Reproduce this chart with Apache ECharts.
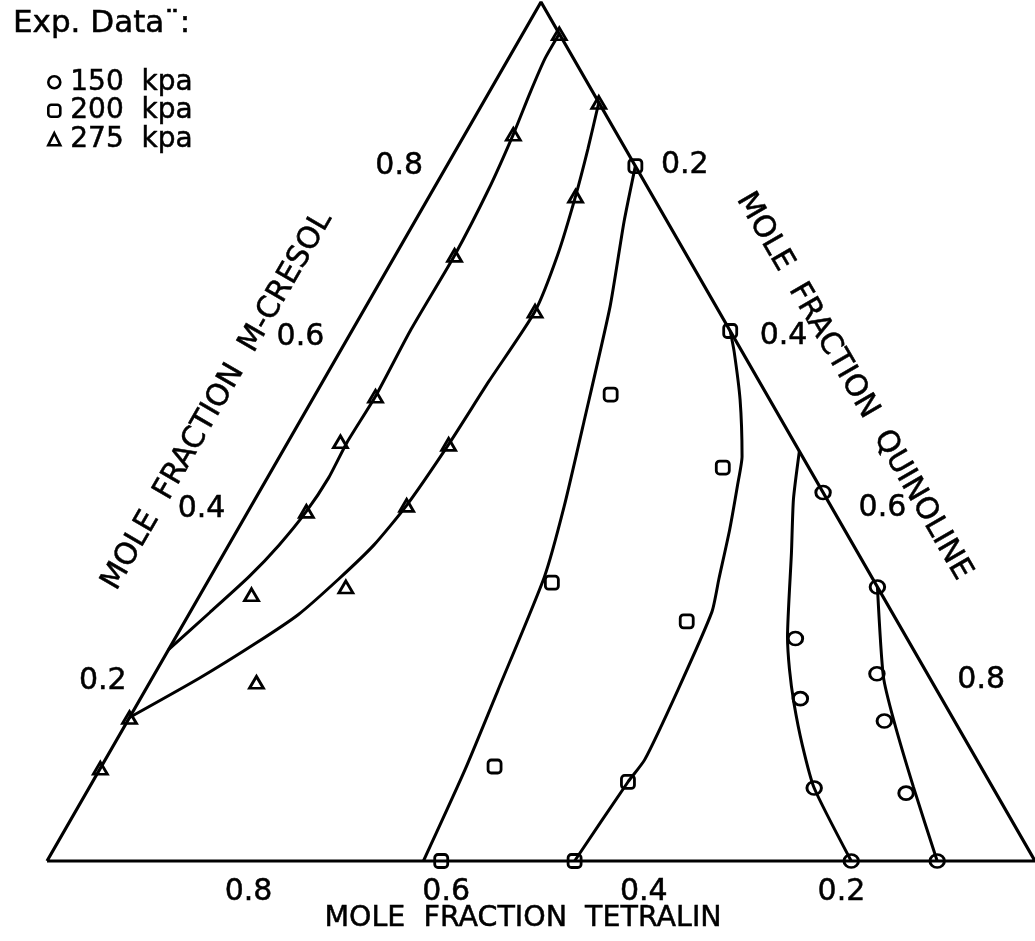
<!DOCTYPE html>
<html>
<head>
<meta charset="utf-8">
<script src="https://cdn.jsdelivr.net/npm/echarts@6/dist/echarts.min.js"></script>
<style>
html, body { margin: 0; padding: 0; background: #fff; }
#chart { width: 1035px; height: 941px; }
</style>
</head>
<body>
<div id="chart"></div>
<script>
// Compositions are [tetralin, m-cresol] mole fractions; quinoline is the remainder.

// Experimental points
const exp150 = [
  [0.000, 0.429], [0.000, 0.319], [0.113, 0.259], [0.051, 0.218], [0.143, 0.189],
  [0.071, 0.163], [0.181, 0.085], [0.091, 0.079], [0.186, 0.000], [0.099, 0.000]
];
const exp200 = [
  [0.000, 0.809], [0.000, 0.617], [0.158, 0.543], [0.087, 0.458], [0.327, 0.324],
  [0.213, 0.279], [0.492, 0.110], [0.366, 0.092], [0.601, 0.000], [0.466, 0.000]
];
const exp275 = [
  [0.000, 0.963], [0.000, 0.883], [0.105, 0.846], [0.078, 0.774], [0.235, 0.705],
  [0.186, 0.640], [0.397, 0.541], [0.351, 0.485], [0.459, 0.488], [0.429, 0.414],
  [0.534, 0.407], [0.638, 0.310], [0.538, 0.319], [0.684, 0.208], [0.833, 0.167],
  [0.892, 0.108]
];

// Calculated curves
const calc275a = [
  [0.754, 0.246], [0.691, 0.289], [0.630, 0.331], [0.581, 0.368], [0.534, 0.407],
  [0.492, 0.446], [0.453, 0.487], [0.397, 0.541], [0.322, 0.619], [0.235, 0.705],
  [0.162, 0.782], [0.105, 0.846], [0.065, 0.893], [0.029, 0.934], [0.000, 0.963]
];
const calc275b = [
  [0.833, 0.167], [0.739, 0.213], [0.661, 0.254], [0.602, 0.287], [0.541, 0.328],
  [0.485, 0.368], [0.429, 0.414], [0.351, 0.485], [0.274, 0.558], [0.186, 0.640],
  [0.130, 0.706], [0.078, 0.774], [0.038, 0.829], [0.000, 0.883]
];
const calc200a = [
  [0.619, 0.000], [0.524, 0.106], [0.444, 0.199], [0.331, 0.331], [0.270, 0.413],
  [0.199, 0.514], [0.107, 0.646], [0.044, 0.744], [0.000, 0.809]
];
const calc200b = [
  [0.466, 0.000], [0.366, 0.092], [0.336, 0.118], [0.262, 0.199], [0.182, 0.290],
  [0.156, 0.328], [0.116, 0.386], [0.082, 0.438], [0.061, 0.471], [0.030, 0.537],
  [0.008, 0.593], [0.000, 0.617]
];
const calc150a = [
  [0.000, 0.477], [0.034, 0.421], [0.067, 0.359], [0.120, 0.261], [0.137, 0.223],
  [0.152, 0.184], [0.168, 0.135], [0.181, 0.085], [0.186, 0.000]
];
const calc150b = [
  [0.000, 0.319], [0.046, 0.215], [0.061, 0.164], [0.080, 0.086], [0.099, 0.000]
];

// Pure-component corners: tetralin, quinoline, m-cresol
const corners = [[1, 0], [0, 0], [0, 1], [1, 0]];

// Tick labels on each side
const tetralinTicks = [0.8, 0.6, 0.4, 0.2];
const cresolTicks = [0.2, 0.4, 0.6, 0.8];
const quinolineTicks = [0.2, 0.4, 0.6, 0.8];

const legendNames = ['150  kpa', '200  kpa', '275  kpa'];

// ternary [tetralin, cresol] -> plane (x along base, y = height fraction)
function toXY(p) {
  const t = p[0], c = p[1];
  return [1 - t - c / 2, c];
}

// plot area size in px, used to shift label anchors off the frame
const AREA_W = 992, AREA_H = 859;
function shift(xy, dx, dy) {
  return [xy[0] + dx / AREA_W, xy[1] - dy / AREA_H];
}

const FONT = '"DejaVu Sans", "Liberation Sans", sans-serif';
const INK = '#000';

function curve(data) {
  return {
    type: 'line',
    data: data.map(toXY),
    symbol: 'none',
    smooth: 0.2,
    clip: false,
    lineStyle: { color: INK, width: 3, opacity: 1 },
    z: 2,
    silent: true
  };
}

function points(name, data, symbol, size) {
  return {
    type: 'scatter',
    name: name,
    data: data.map(toXY),
    symbol: symbol,
    symbolSize: size,
    clip: false,
    itemStyle: { color: 'rgba(0,0,0,0)', borderColor: INK, borderWidth: 2.8, opacity: 1 },
    z: 4,
    silent: true
  };
}

function textSeries(items, fontSize, offset, rotate) {
  return {
    type: 'scatter',
    data: items,
    symbolSize: 1,
    clip: false,
    itemStyle: { color: 'rgba(0,0,0,0)', opacity: 1 },
    label: {
      show: true,
      position: 'inside',
      formatter: '{b}',
      offset: offset,
      rotate: rotate || 0,
      color: INK,
      opacity: 1,
      textBorderColor: INK,
      textBorderWidth: 0.5,
      fontFamily: FONT,
      fontSize: fontSize
    },
    z: 5,
    silent: true
  };
}

const cresolLabels = cresolTicks.map(c => ({ name: c.toFixed(1), value: toXY([1 - c, c]) }));
const quinolineLabels = quinolineTicks.map(q => ({ name: q.toFixed(1), value: toXY([0, 1 - q]) }));
const tetralinLabels = tetralinTicks.map(t => ({ name: t.toFixed(1), value: toXY([t, 0]) }));

const chart = echarts.init(document.getElementById('chart'), null, { renderer: 'canvas' });

chart.setOption({
  animation: false,
  backgroundColor: '#fff',
  grid: { left: 47, top: 2, width: AREA_W, height: AREA_H },
  xAxis: { type: 'value', min: 0, max: 1, show: false },
  yAxis: { type: 'value', min: 0, max: 1, show: false },
  legend: {
    data: legendNames,
    orient: 'vertical',
    left: 47,
    top: 68,
    padding: 0,
    itemWidth: 12,
    itemHeight: 12,
    itemGap: 0,
    selectedMode: false,
    itemStyle: { color: 'rgba(0,0,0,0)', borderColor: INK, borderWidth: 2.6, opacity: 1 },
    textStyle: {
      color: INK, fontFamily: FONT, fontSize: 28, lineHeight: 26,
      padding: [0, 0, 0, 5],
      textBorderColor: INK, textBorderWidth: 0.5
    }
  },
  graphic: [{
    type: 'text',
    x: 13,
    y: 24,
    style: {
      text: 'Exp. Data\u00a8:',
      fill: INK,
      stroke: INK,
      lineWidth: 0.5,
      font: '31px ' + FONT,
      align: 'left',
      verticalAlign: 'middle'
    }
  }],
  series: [
    {
      type: 'line',
      data: corners.map(toXY),
      symbol: 'none',
      clip: false,
      lineStyle: { color: INK, width: 3.2, opacity: 1 },
      z: 2,
      silent: true
    },
    curve(calc275a),
    curve(calc275b),
    curve(calc200a),
    curve(calc200b),
    curve(calc150a),
    curve(calc150b),
    points(legendNames[0], exp150, 'circle', [14.5, 13]),
    points(legendNames[1], exp200, 'roundRect', 13),
    points(legendNames[2], exp275, 'triangle', [14, 12]),
    textSeries(cresolLabels, 30, [-43, -8]),
    textSeries(quinolineLabels, 30, [45, -9]),
    textSeries(tetralinLabels, 30, [4, 31]),
    textSeries([{ name: 'MOLE  FRACTION  M-CRESOL', value: shift(toXY([0.512, 0.488]), -71, -41) }], 30, [0, 0], 60),
    textSeries([{ name: 'MOLE  FRACTION  QUINOLINE', value: shift(toXY([0, 0.506]), 69, -40) }], 30, [0, 0], -60),
    textSeries([{ name: 'MOLE  FRACTION  TETRALIN', value: shift(toXY([0.5, 0]), -18, 58) }], 28.5, [0, 0], 0)
  ]
});
</script>
</body>
</html>
